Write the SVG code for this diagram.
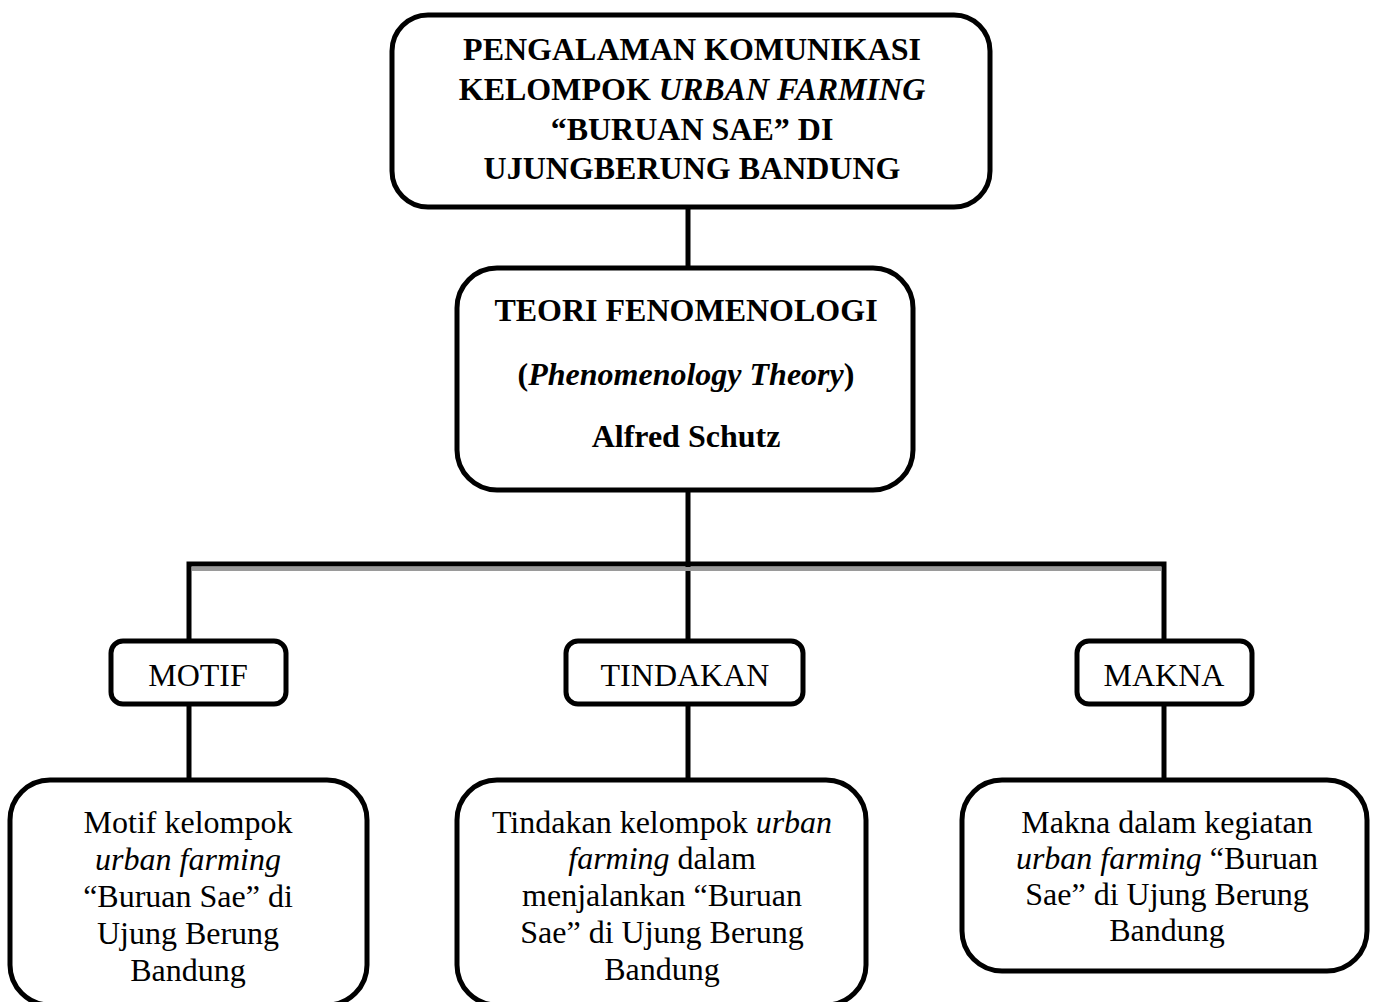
<svg xmlns="http://www.w3.org/2000/svg" width="1379" height="1002" viewBox="0 0 1379 1002">
<style>
.box{fill:#fff;stroke:#000;stroke-width:5}
.ln{stroke:#000;stroke-width:5;fill:none}
.t{font-family:"Liberation Serif","Times New Roman",serif;fill:#000;text-anchor:middle}
.b{font-weight:bold;font-size:32px}
.s{font-size:32px}
.r{font-size:32px}
</style>
<rect width="1379" height="1002" fill="#fff"/>
<g id="connectors">
<line class="ln" x1="688" y1="205" x2="688" y2="270"/>
<line class="ln" x1="688" y1="488" x2="688" y2="645"/>
<line x1="192" y1="569" x2="1161" y2="569" stroke="#9a9a9a" stroke-width="4"/>
<polyline class="ln" points="189,645 189,564 1164,564 1164,645"/>
<line class="ln" x1="189" y1="703" x2="189" y2="782"/>
<line class="ln" x1="688" y1="703" x2="688" y2="782"/>
<line class="ln" x1="1164" y1="703" x2="1164" y2="782"/>
</g>
<g id="top">
<rect class="box" x="392" y="15" width="598" height="192" rx="36"/>
<text class="t b" x="692" y="60">PENGALAMAN KOMUNIKASI</text>
<text class="t b" x="692" y="100">KELOMPOK <tspan font-style="italic">URBAN FARMING</tspan></text>
<text class="t b" x="692" y="140">“BURUAN SAE” DI</text>
<text class="t b" x="692" y="179">UJUNGBERUNG BANDUNG</text>
</g>
<g id="theory">
<rect class="box" x="457" y="268" width="456" height="222" rx="40"/>
<text class="t b" x="686" y="321">TEORI FENOMENOLOGI</text>
<text class="t b" x="686" y="385">(<tspan font-style="italic">Phenomenology Theory</tspan>)</text>
<text class="t b" x="686" y="447">Alfred Schutz</text>
</g>
<g id="motif">
<rect class="box" x="111" y="641" width="175" height="63" rx="12"/>
<text class="t s" x="198" y="686">MOTIF</text>
</g>
<g id="tindakan">
<rect class="box" x="566" y="641" width="237" height="63" rx="12"/>
<text class="t s" x="685" y="686">TINDAKAN</text>
</g>
<g id="makna">
<rect class="box" x="1077" y="641" width="175" height="63" rx="12"/>
<text class="t s" x="1164" y="686">MAKNA</text>
</g>
<g id="motif-desc">
<rect class="box" x="10" y="780" width="357" height="225" rx="40"/>
<text class="t r" x="188" y="833">Motif kelompok</text>
<text class="t r" x="188" y="870" font-style="italic">urban farming</text>
<text class="t r" x="188" y="907">“Buruan Sae” di</text>
<text class="t r" x="188" y="944">Ujung Berung</text>
<text class="t r" x="188" y="981">Bandung</text>
</g>
<g id="tindakan-desc">
<rect class="box" x="457" y="780" width="409" height="225" rx="40"/>
<text class="t r" x="662" y="833">Tindakan kelompok <tspan font-style="italic">urban</tspan></text>
<text class="t r" x="662" y="869"><tspan font-style="italic">farming</tspan> dalam</text>
<text class="t r" x="662" y="906">menjalankan “Buruan</text>
<text class="t r" x="662" y="943">Sae” di Ujung Berung</text>
<text class="t r" x="662" y="980">Bandung</text>
</g>
<g id="makna-desc">
<rect class="box" x="962" y="780" width="405" height="191" rx="40"/>
<text class="t r" x="1167" y="833">Makna dalam kegiatan</text>
<text class="t r" x="1167" y="869"><tspan font-style="italic">urban farming</tspan> “Buruan</text>
<text class="t r" x="1167" y="905">Sae” di Ujung Berung</text>
<text class="t r" x="1167" y="941">Bandung</text>
</g>
</svg>
